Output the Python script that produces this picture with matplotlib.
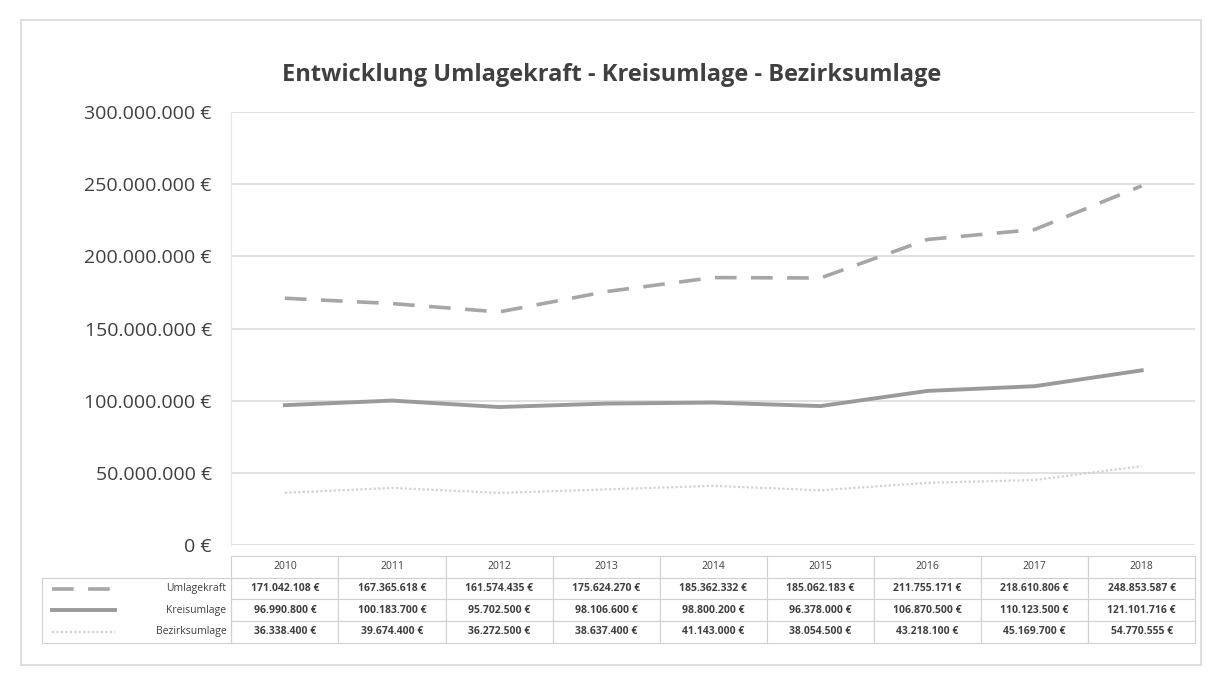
import matplotlib.pyplot as plt
from matplotlib.lines import Line2D

years = ["2010", "2011", "2012", "2013", "2014", "2015", "2016", "2017", "2018"]
umlagekraft = [171042108, 167365618, 161574435, 175624270, 185362332, 185062183, 211755171, 218610806, 248853587]
kreisumlage = [96990800, 100183700, 95702500, 98106600, 98800200, 96378000, 106870500, 110123500, 121101716]
bezirksumlage = [36338400, 39674400, 36272500, 38637400, 41143000, 38054500, 43218100, 45169700, 54770555]

series_names = ["Umlagekraft", "Kreisumlage", "Bezirksumlage"]
yticks = [0, 50000000, 100000000, 150000000, 200000000, 250000000, 300000000]


def euro(v):
    return f"{v:,.0f} €".replace(",", ".")


def main():
    plt.rcParams['font.family'] = ['Open Sans', 'DejaVu Sans']
    fig = plt.figure(figsize=(12.11, 6.79), dpi=100)
    ax = fig.add_axes([0.191, 0.197, 0.796, 0.638])

    # outer chart frame
    fig.add_artist(plt.Rectangle((0.017, 0.02), 0.975, 0.95, transform=fig.transFigure,
                                 fill=False, edgecolor='#d8d8d8', lw=1.2))

    x = list(range(len(years)))
    styles = [
        dict(color='#a6a6a6', lw=2.6, ls=(0, (6, 4))),
        dict(color='#9a9a9a', lw=2.8, ls='-'),
        dict(color='#d2d2d2', lw=1.6, ls=(0, (1, 1))),
    ]
    for vals, st in zip([umlagekraft, kreisumlage, bezirksumlage], styles):
        ax.plot(x, vals, **st)

    ax.set_xlim(-0.5, len(years) - 0.5)
    ax.set_ylim(0, 300000000)
    ax.set_yticks(yticks)
    ax.set_yticklabels([euro(v) if v else "0 €" for v in yticks], fontsize=14, color='#404040')
    ax.set_xticks([])
    ax.tick_params(axis='y', length=0, pad=14)
    ax.grid(axis='y', color='#dcdcdc', lw=1.2)
    ax.set_axisbelow(True)
    for s in ['top', 'right', 'bottom']:
        ax.spines[s].set_visible(False)
    ax.spines['left'].set_color('#e6e6e6')

    fig.text(0.505, 0.89, "Entwicklung Umlagekraft - Kreisumlage - Bezirksumlage",
             ha='center', va='center', fontsize=17, fontweight='bold', color='#404040')

    # data table below the plot
    cell_text = [[euro(v) for v in row] for row in [umlagekraft, kreisumlage, bezirksumlage]]
    tbl = ax.table(cellText=cell_text, colLabels=years, cellLoc='center',
                   bbox=[0, -0.225, 1, 0.2])
    tbl.auto_set_font_size(False)
    tbl.set_fontsize(7.5)
    for (r, c), cell in tbl.get_celld().items():
        cell.set_edgecolor('#d0d0d0')
        cell.set_linewidth(0.8)
        cell.get_text().set_color('#404040')
        if r > 0:
            cell.get_text().set_fontweight('bold')

    # row label column with legend keys
    x0 = -0.196
    row_h = 0.2 / 4
    ax.add_patch(plt.Rectangle((x0, -0.225), -x0, 3 * row_h, transform=ax.transAxes,
                               fill=False, edgecolor='#d0d0d0', lw=0.8, clip_on=False))
    for i, (name, st) in enumerate(zip(series_names, styles)):
        yc = -0.225 + (2.5 - i) * row_h
        ax.add_line(Line2D([x0 + 0.01, x0 + 0.075], [yc, yc], transform=ax.transAxes,
                           clip_on=False, **st))
        ax.text(-0.005, yc, name, transform=ax.transAxes, ha='right', va='center',
                fontsize=7.5, color='#404040')

    fig.savefig("out.png", dpi=100)


if __name__ == '__main__':
    main()
